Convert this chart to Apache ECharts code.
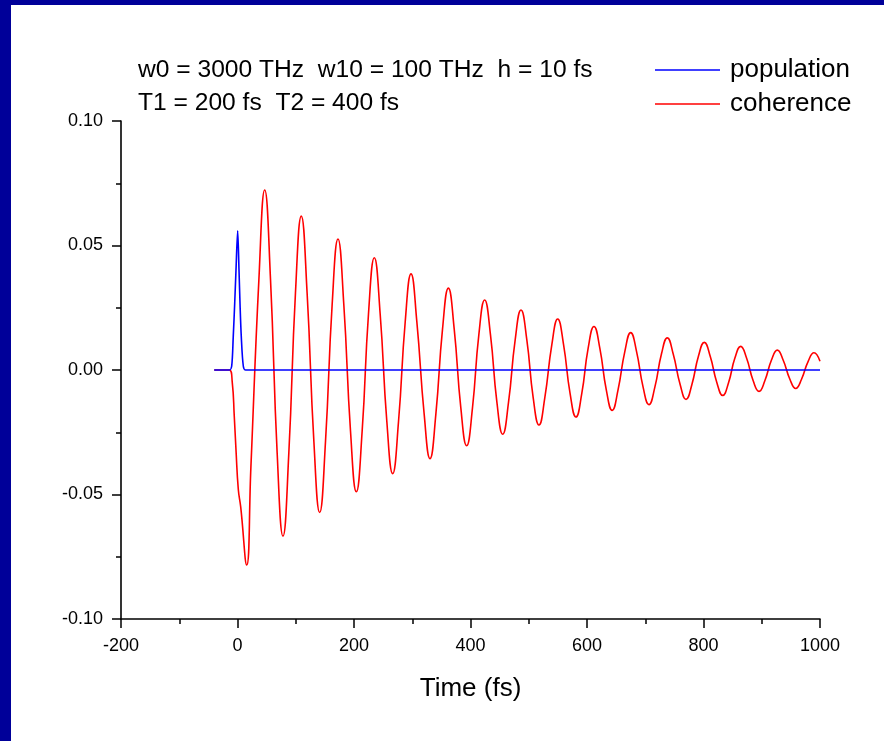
<!DOCTYPE html>
<html>
<head>
<meta charset="utf-8">
<script src="https://cdn.jsdelivr.net/npm/echarts@6/dist/echarts.min.js"></script>
<style>
html,body{margin:0;padding:0;background:#fff;}
#chart{width:884px;height:741px;}
</style>
</head>
<body>
<div id="chart"></div>
<script>
// ---- data ----
const xTicks = [-200, 0, 200, 400, 600, 800, 1000];
const yTicks = [-0.10, -0.05, 0.00, 0.05, 0.10];

const popT = [-40, -14, -10, -7.3, -4.8, -2.6, 0.3, 2.6, 4.3, 6.5, 10, 14, 1000];
const popV = [0, 0, 0.0015, 0.0134, 0.0268, 0.040, 0.0559, 0.040, 0.0268, 0.0134, 0.0015, 0, 0];

// coherence: extrema and half-height points on either side
const cohT = [-40, -14, -9, -5.5, -2.6, 1.4, 5.5, 15.8, 23,
  36.7, 46.7, 56.7,
  68.1, 78.1, 88.1,
  99.5, 109.5, 119.5,
  131.1, 141.1, 151.1,
  162.5, 172.5, 182.5,
  194, 204, 214,
  224.9, 234.9, 244.9,
  256.4, 266.4, 276.4,
  287.9, 297.9, 307.9,
  320.5, 330.5, 340.5,
  352, 362, 372,
  383.4, 393.4, 403.4,
  414.3, 424.3, 434.3,
  445.3, 455.3, 465.3,
  476.7, 486.7, 496.7,
  507.6, 517.6, 527.6,
  539.7, 549.7, 559.7,
  571, 581, 591,
  602, 612, 622,
  633.2, 643.2, 653.2,
  665, 675, 685,
  696.4, 706.4, 716.4,
  727.9, 737.9, 747.9,
  760, 770, 780,
  791.4, 801.4, 811.4,
  823, 833, 843,
  853.9, 863.9, 873.9,
  885.3, 895.3, 905.3,
  916.7, 926.7, 936.7,
  948.3, 958.3, 968.3,
  979.7, 989.7, 1000];
const cohV = [0, 0, -0.005, -0.0188, -0.032, -0.048, -0.055, -0.0783, -0.039,
  0.0362, 0.0723, 0.0362,
  -0.0334, -0.0667, -0.0334,
  0.0309, 0.0618, 0.0309,
  -0.0286, -0.0572, -0.0286,
  0.0263, 0.0526, 0.0263,
  -0.0245, -0.0489, -0.0245,
  0.0226, 0.0451, 0.0226,
  -0.0208, -0.0416, -0.0208,
  0.0193, 0.0386, 0.0193,
  -0.0178, -0.0356, -0.0178,
  0.0165, 0.0329, 0.0165,
  -0.0152, -0.0304, -0.0152,
  0.0141, 0.0281, 0.0141,
  -0.0129, -0.0258, -0.0129,
  0.0121, 0.0241, 0.0121,
  -0.0111, -0.0221, -0.0111,
  0.0103, 0.0205, 0.0103,
  -0.0095, -0.0189, -0.0095,
  0.0088, 0.0175, 0.0088,
  -0.0081, -0.0162, -0.0081,
  0.0075, 0.0150, 0.0075,
  -0.0070, -0.0139, -0.0070,
  0.0065, 0.0129, 0.0065,
  -0.0059, -0.0118, -0.0059,
  0.0056, 0.0111, 0.0056,
  -0.0051, -0.0102, -0.0051,
  0.0048, 0.0095, 0.0048,
  -0.0043, -0.0086, -0.0043,
  0.0040, 0.0080, 0.0040,
  -0.0037, -0.0074, -0.0037,
  0.0035, 0.0069, 0.0035];

const annot1 = 'w0 = 3000 THz  w10 = 100 THz  h = 10 fs';
const annot2 = 'T1 = 200 fs  T2 = 400 fs';

const zip = (a, b) => a.map((x, i) => [x, b[i]]);

const chart = echarts.init(document.getElementById('chart'), null, {renderer: 'canvas'});
const FONT = 'Liberation Sans, Arial, sans-serif';
const axisCommon = {
  axisLine: {show: true, onZero: false, lineStyle: {color: '#000', width: 1.6}},
  axisTick: {show: true, inside: false, length: 9, lineStyle: {color: '#000', width: 1.5}},
  minorTick: {show: true, splitNumber: 2, length: 5, lineStyle: {color: '#000', width: 1.5}},
  splitLine: {show: false},
  axisLabel: {color: '#000', fontSize: 18, fontFamily: FONT}
};
chart.setOption({
  animation: false,
  backgroundColor: '#fff',
  grid: {left: 121, right: 64, top: 121, bottom: 122, containLabel: false},
  xAxis: Object.assign({}, axisCommon, {
    type: 'value', min: xTicks[0], max: xTicks[xTicks.length - 1], interval: 200,
    name: 'Time (fs)', nameLocation: 'middle', nameGap: 57,
    nameTextStyle: {color: '#000', fontSize: 26, fontFamily: FONT},
    axisLabel: Object.assign({}, axisCommon.axisLabel, {margin: 18, formatter: v => String(v)})
  }),
  yAxis: Object.assign({}, axisCommon, {
    type: 'value', min: yTicks[0], max: yTicks[yTicks.length - 1], interval: 0.05,
    axisLabel: Object.assign({}, axisCommon.axisLabel, {margin: 18, formatter: v => v.toFixed(2)})
  }),
  legend: {
    orient: 'vertical', left: 650, top: 50, itemWidth: 65, itemHeight: 1.5, itemGap: 4, icon: 'rect',
    textStyle: {color: '#000', fontSize: 26, fontFamily: FONT, lineHeight: 30, padding: [0, 0, 0, 5]},
    data: ['population', 'coherence']
  },
  graphic: [
    {type: 'rect', shape: {x: 0, y: 0, width: 884, height: 5}, style: {fill: '#000099'}, silent: true},
    {type: 'rect', shape: {x: 0, y: 0, width: 11, height: 741}, style: {fill: '#000099'}, silent: true},
    {type: 'text', x: 138, y: 70, style: {text: annot1, fill: '#000', fontSize: 24.6, fontFamily: FONT, verticalAlign: 'middle'}},
    {type: 'text', x: 138, y: 103, style: {text: annot2, fill: '#000', fontSize: 24.6, fontFamily: FONT, verticalAlign: 'middle'}}
  ],
  series: [
    {name: 'coherence', type: 'line', data: zip(cohT, cohV), showSymbol: false, smooth: 0.5,
     lineStyle: {color: '#ff0000', width: 1.6}, itemStyle: {color: '#ff0000'}, z: 2},
    {name: 'population', type: 'line', data: zip(popT, popV), showSymbol: false, smooth: 0.3,
     lineStyle: {color: '#0000ff', width: 1.6}, itemStyle: {color: '#0000ff'}, z: 3}
  ]
});
</script>
</body>
</html>
